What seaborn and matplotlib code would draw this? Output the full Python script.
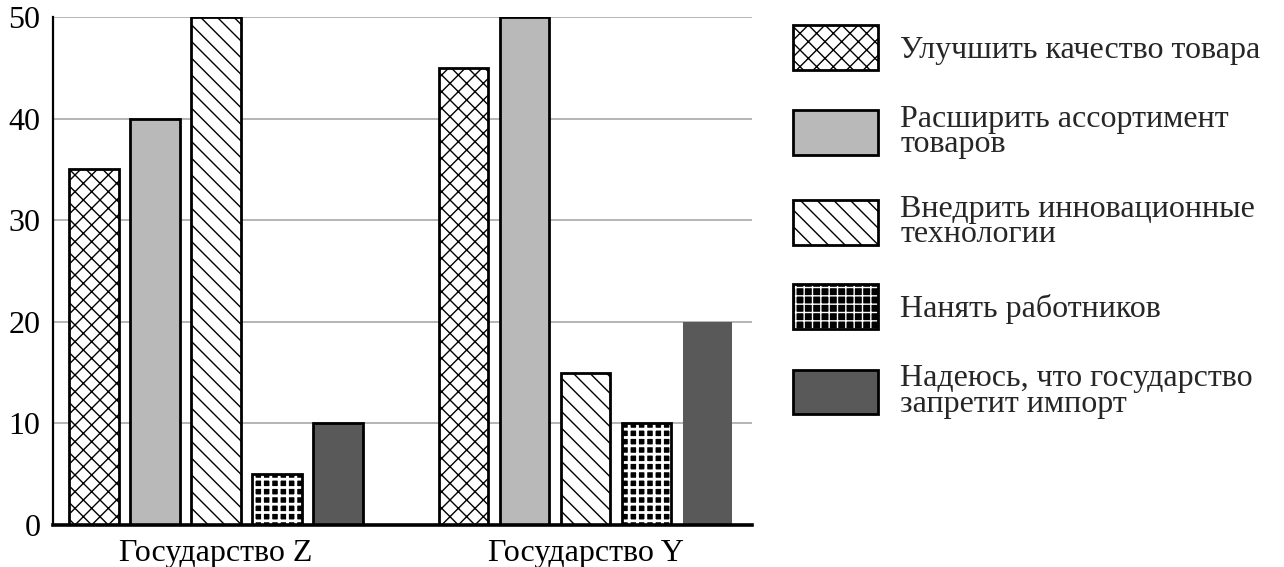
import matplotlib
matplotlib.use("Agg")
import matplotlib.pyplot as plt
from matplotlib.patches import Patch, Rectangle
from matplotlib.legend_handler import HandlerTuple
import seaborn as sns
import pandas as pd

categories = ["Государство Z", "Государство Y"]
series = [
    "Улучшить качество товара",
    "Расширить ассортимент\nтоваров",
    "Внедрить инновационные\nтехнологии",
    "Нанять работников",
    "Надеюсь, что государство\nзапретит импорт",
]
values_z = [35, 40, 50, 5, 10]
values_y = [45, 50, 15, 10, 20]
y_ticks = [0, 10, 20, 30, 40, 50]

faces = ["white", "#b9b9b9", "white", "black", "#595959"]
hatches = ["xx", "", "\\\\", "++", ""]

rows = []
for s, vz, vy in zip(series, values_z, values_y):
    rows.append({"state": categories[0], "answer": s, "value": vz})
    rows.append({"state": categories[1], "answer": s, "value": vy})
df = pd.DataFrame(rows)

sns.set_theme(style="white")
plt.rcParams["font.family"] = ["Liberation Serif", "DejaVu Serif"]
plt.rcParams["hatch.linewidth"] = 1.0

fig = plt.figure(figsize=(12.84, 5.67), dpi=100)
ax = fig.add_axes([53 / 1284, 42 / 567, (752 - 53) / 1284, (525 - 17) / 567])

sns.barplot(data=df, x="state", y="value", hue="answer", order=categories,
            hue_order=series, palette=faces, width=0.825, gap=0.185,
            edgecolor="black", linewidth=2, saturation=1, legend=False, ax=ax)

for i, cont in enumerate(ax.containers):
    for j, bar in enumerate(cont.patches):
        bar.set_facecolor(faces[i])
        if hatches[i] and i != 3:
            bar.set_hatch(hatches[i])
        if i == 3:
            bar.set_edgecolor("white")
            bar.set_hatch("++")
            bar.set_linewidth(0)
            if hasattr(bar, "set_hatch_linewidth"):
                bar.set_hatch_linewidth(2.0)
            ax.add_patch(Rectangle(bar.get_xy(), bar.get_width(), bar.get_height(),
                                   facecolor="none", edgecolor="black", linewidth=2,
                                   zorder=bar.get_zorder() + 0.1))
        if i == 4 and j == 1:
            bar.set_linewidth(0)

ax.set_xlim(-0.44, 1.45)
ax.set_ylim(0, 50)
ax.set_yticks(y_ticks)
ax.yaxis.grid(True, color="#a0a0a0", linewidth=1.1)
ax.set_axisbelow(True)
ax.set_xlabel("")
ax.set_ylabel("")
ax.tick_params(axis="both", length=0, labelsize=23, colors="black")
ax.tick_params(axis="y", pad=9)
ax.tick_params(axis="x", pad=10)
for side in ["top", "right"]:
    ax.spines[side].set_visible(False)
ax.spines["left"].set_color("black")
ax.spines["left"].set_linewidth(1.6)
ax.spines["bottom"].set_color("black")
ax.spines["bottom"].set_linewidth(2.6)

handles = []
for i in range(5):
    if i == 3:
        p1 = Patch(facecolor="black", edgecolor="white", hatch="++", linewidth=0)
        if hasattr(p1, "set_hatch_linewidth"):
            p1.set_hatch_linewidth(2.0)
        p2 = Patch(facecolor="none", edgecolor="black", linewidth=2)
        handles.append((p1, p2))
    else:
        handles.append(Patch(facecolor=faces[i], edgecolor="black",
                             hatch=hatches[i] or None, linewidth=2))

leg = fig.legend(handles, series, loc="upper left",
                 bbox_to_anchor=(793 / 1284, 1 - 25 / 567), frameon=False,
                 fontsize=23, handlelength=2.66, handleheight=1.77,
                 handletextpad=0.7, labelspacing=1.1, borderaxespad=0, borderpad=0,
                 handler_map={tuple: HandlerTuple(ndivide=1, pad=0)})
for t in leg.get_texts():
    t.set_linespacing(0.85)

fig.savefig("out.png", dpi=100)
